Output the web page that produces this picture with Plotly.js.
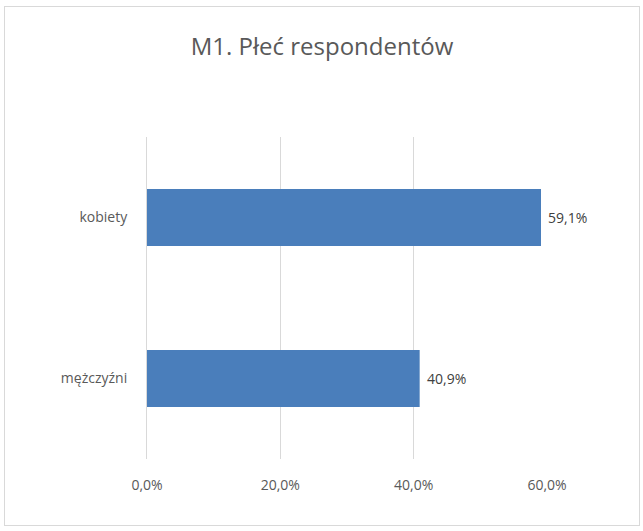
<!DOCTYPE html>
<html>
<head>
<meta charset="utf-8">
<script src="https://cdn.plot.ly/plotly-3.0.1.min.js"></script>
<style>
html,body{margin:0;padding:0;background:#fff;}
#frame{position:absolute;left:4px;top:6px;width:634px;height:518px;border:1px solid #d9d9d9;}
#chart{width:634px;height:518px;}
</style>
</head>
<body>
<div id="frame"><div id="chart"></div></div>
<script>
var categories = ["mężczyźni", "kobiety"];
var values = [0.409, 0.591];
var valueLabels = ["40,9%", "59,1%"];
var tickVals = [0, 0.2, 0.4, 0.6];
var tickText = ["0,0%", "20,0%", "40,0%", "60,0%"];

var trace = {
  type: "bar",
  orientation: "h",
  y: categories,
  x: values,
  marker: {color: "#4a7ebb", line: {width: 0}},
  hoverinfo: "none"
};

var annotations = categories.map(function (c, i) {
  return {
    x: values[i], y: c, xref: "x", yref: "y",
    text: valueLabels[i], showarrow: false,
    xanchor: "left", yanchor: "middle", xshift: 5,
    font: {family: "Open Sans, sans-serif", size: 14, color: "#404040"}
  };
});

var layout = {
  width: 634,
  height: 518,
  margin: {l: 142, r: 92, t: 130, b: 66},
  paper_bgcolor: "#ffffff",
  plot_bgcolor: "#ffffff",
  showlegend: false,
  bargap: 0.646,
  annotations: annotations,
  title: {
    text: "M1. Płeć respondentów",
    font: {family: "Open Sans, sans-serif", size: 24, color: "#595959"},
    x: 0.5, xanchor: "center",
    y: 1 - 40/518, yanchor: "middle"
  },
  xaxis: {
    range: [0, 0.6],
    tickvals: tickVals,
    ticktext: tickText,
    showgrid: true,
    gridcolor: "#d9d9d9",
    gridwidth: 1,
    zeroline: false,
    showline: false,
    ticks: "",
    ticklabelstandoff: 16,
    tickfont: {family: "Open Sans, sans-serif", size: 14, color: "#595959"},
    fixedrange: true
  },
  yaxis: {
    type: "category",
    showgrid: false,
    zeroline: false,
    showline: true,
    linecolor: "#d9d9d9",
    linewidth: 1,
    ticks: "",
    ticklabelstandoff: 16,
    tickfont: {family: "Open Sans, sans-serif", size: 14, color: "#595959"},
    fixedrange: true
  }
};

Plotly.newPlot("chart", [trace], layout, {displayModeBar: false, staticPlot: true});
</script>
</body>
</html>
